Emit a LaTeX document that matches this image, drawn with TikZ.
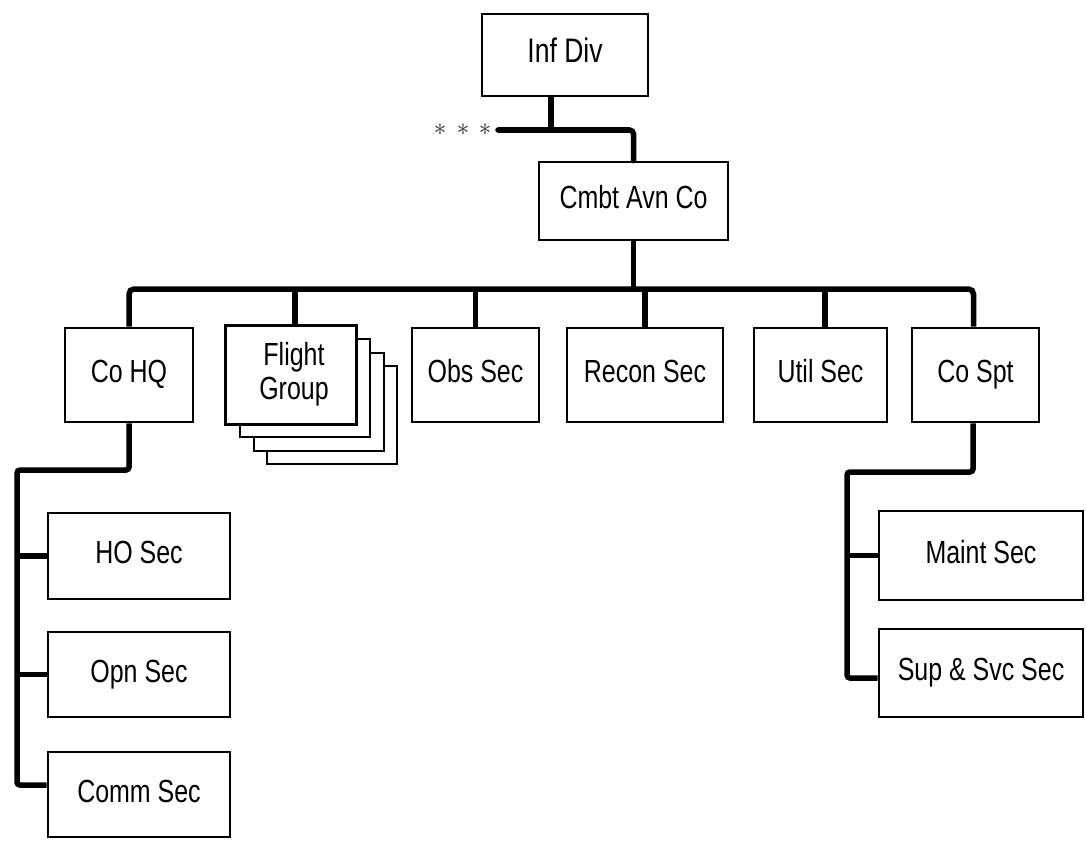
\documentclass[tikz,border=0pt]{standalone}
\usepackage{fontspec}
\setmainfont{Liberation Sans}[FakeStretch=0.78]
\begin{document}
\begin{tikzpicture}[x=1pt,y=-1pt,
  box/.style={draw, line width=2.6pt, fill=white, inner sep=0pt,
    text height=23pt, text depth=8pt, font=\fontsize{32}{34}\selectfont},
  stackbox/.style={draw, line width=2pt, fill=white},
  conn/.style={line width=5.5pt},
  label/.style={inner sep=0pt, align=center, font=\fontsize{32}{34}\selectfont},
  dot/.style={inner sep=0pt, text=black!85, font=\fontsize{26}{26}\selectfont}]
\useasboundingbox (0,0) rectangle (1086,856);

% boxes
\node[box, minimum width=166pt, minimum height=82pt, font=\fontsize{34}{36}\selectfont] (infdiv) at (565,55) {Inf Div};
\node[box, minimum width=189pt, minimum height=78pt] (cmbt) at (633.5,201) {Cmbt Avn Co};

\node[box, minimum width=128pt, minimum height=94pt] (cohq) at (129,375) {Co HQ};
% flight group stack
\node[box, draw=none, fill=none, minimum width=128pt, minimum height=96pt] (flight) at (291,375) {};
\draw[stackbox] ([shift={(41,40)}]flight.south west) rectangle ([shift={(41,40)}]flight.north east);
\draw[stackbox] ([shift={(28,27)}]flight.south west) rectangle ([shift={(28,27)}]flight.north east);
\draw[stackbox] ([shift={(14,13)}]flight.south west) rectangle ([shift={(14,13)}]flight.north east);
\draw[line width=2.6pt, fill=white] (flight.south west) rectangle (flight.north east);
\node[label] (flighttext) at (294,374) {Flight\\Group};

\node[box, minimum width=127pt, minimum height=94pt] (obs) at (475.5,375) {Obs Sec};
\node[box, minimum width=156pt, minimum height=94pt] (recon) at (645,375) {Recon Sec};
\node[box, minimum width=133pt, minimum height=94pt] (util) at (820.5,375) {Util Sec};
\node[box, minimum width=127pt, minimum height=94pt] (cospt) at (975.5,375) {Co Spt};

\node[box, minimum width=182pt, minimum height=86pt] (hosec) at (139,556) {HO Sec};
\node[box, minimum width=182pt, minimum height=85pt] (opnsec) at (139,674.5) {Opn Sec};
\node[box, minimum width=182pt, minimum height=85pt] (commsec) at (139,794.5) {Comm Sec};

\node[box, minimum width=204pt, minimum height=89pt] (maint) at (981,555.5) {Maint Sec};
\node[box, minimum width=204pt, minimum height=88pt] (supsvc) at (981,673) {Sup \& Svc Sec};

% helper coordinates
\coordinate (dotsend) at (498,130);
\coordinate (bus) at (0,289);
\coordinate (lt) at (17,470);
\coordinate (rt) at (847,472);
\coordinate (commin) at ([yshift=9.5pt]commsec.west);
\coordinate (supin) at ([yshift=-5pt]supsvc.west);
\coordinate (cospttop) at ([xshift=-2pt]cospt.north);
\coordinate (csptbot) at ([xshift=-2.5pt]cospt.south);
\coordinate (infdrop) at ([xshift=-14pt]infdiv.south);
\coordinate (flightdrop) at ([xshift=4pt]flight.north);
\coordinate (utildrop) at ([xshift=4.5pt]util.north);

\node[dot] (d1) at (440,130) {$\ast$};
\node[dot] (d2) at (463,130) {$\ast$};
\node[dot] (d3) at (485,130) {$\ast$};

\draw[conn, line cap=round, rounded corners=4pt] (dotsend) -- (dotsend -| cmbt.north) -- (cmbt.north);
\draw[conn] (infdrop) -- (infdrop |- dotsend);
\draw[conn] (cmbt.south) -- (cmbt.south |- bus);

% bus
\draw[conn, rounded corners=5pt] (cohq.north) -- (cohq.north |- bus) -- (cospttop |- bus) -- (cospttop);
\draw[conn] (flightdrop) -- (flightdrop |- bus);
\draw[conn] (obs.north) -- (obs.north |- bus);
\draw[conn] (recon.north) -- (recon.north |- bus);
\draw[conn] (utildrop) -- (utildrop |- bus);

% left tree
\draw[conn, rounded corners=3pt] (cohq.south) |- (lt) -- (lt |- commin) -- (commin);
\draw[conn] (lt |- hosec.west) -- (hosec.west);
\draw[conn] (lt |- opnsec.west) -- (opnsec.west);

% right tree
\draw[conn, rounded corners=3pt] (csptbot) |- (rt) -- (rt |- supin) -- (supin);
\draw[conn] (rt |- maint.west) -- (maint.west);
\end{tikzpicture}
\end{document}
